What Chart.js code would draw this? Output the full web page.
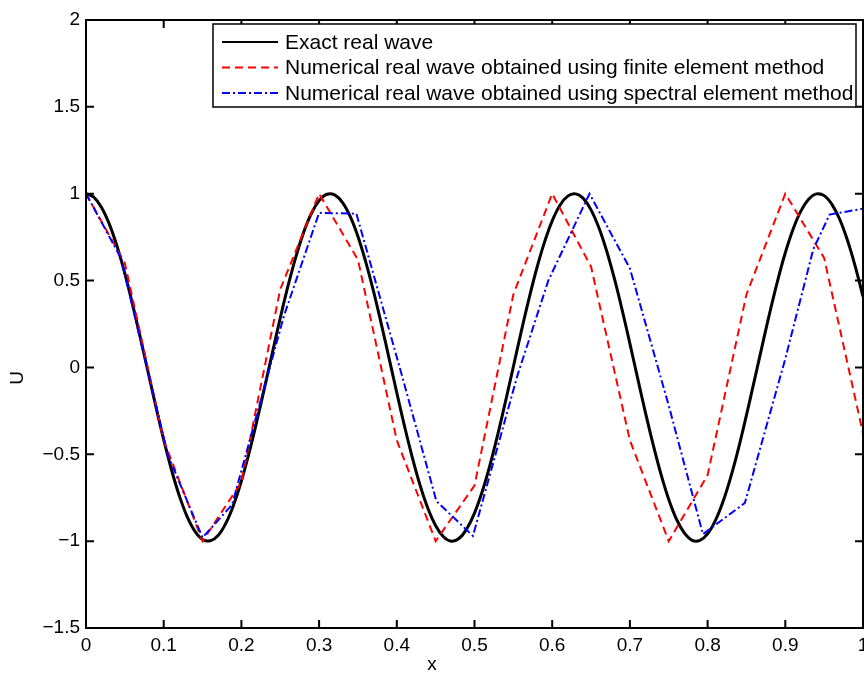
<!DOCTYPE html>
<html>
<head>
<meta charset="utf-8">
<script src="https://cdn.jsdelivr.net/npm/chart.js@4.4.1/dist/chart.umd.min.js"></script>
<style>
  html, body { margin: 0; padding: 0; background: #fff; }
  #wrap { width: 864px; height: 681px; position: relative; }
</style>
</head>
<body>
<div id="wrap"><canvas id="waveChart"></canvas></div>
<script>
// Exact real wave
const exactX = [
  0, 0.01, 0.02, 0.03, 0.04, 0.05, 0.06, 0.07, 0.08, 0.09,
  0.1, 0.11, 0.12, 0.13, 0.14, 0.15, 0.16, 0.17, 0.18, 0.19,
  0.2, 0.21, 0.22, 0.23, 0.24, 0.25, 0.26, 0.27, 0.28, 0.29,
  0.3, 0.31, 0.32, 0.33, 0.34, 0.35, 0.36, 0.37, 0.38, 0.39,
  0.4, 0.41, 0.42, 0.43, 0.44, 0.45, 0.46, 0.47, 0.48, 0.49,
  0.5, 0.51, 0.52, 0.53, 0.54, 0.55, 0.56, 0.57, 0.58, 0.59,
  0.6, 0.61, 0.62, 0.63, 0.64, 0.65, 0.66, 0.67, 0.68, 0.69,
  0.7, 0.71, 0.72, 0.73, 0.74, 0.75, 0.76, 0.77, 0.78, 0.79,
  0.8, 0.81, 0.82, 0.83, 0.84, 0.85, 0.86, 0.87, 0.88, 0.89,
  0.9, 0.91, 0.92, 0.93, 0.94, 0.95, 0.96, 0.97, 0.98, 0.99, 1
];
const exactU = [
  1.000, 0.980, 0.921, 0.825, 0.697, 0.540, 0.362, 0.170, -0.029, -0.227,
  -0.416, -0.589, -0.737, -0.857, -0.942, -0.990, -0.998, -0.967, -0.897, -0.791,
  -0.654, -0.490, -0.307, -0.112, 0.087, 0.284, 0.469, 0.635, 0.776, 0.886,
  0.960, 0.997, 0.993, 0.950, 0.869, 0.754, 0.608, 0.439, 0.251, 0.054,
  -0.146, -0.339, -0.519, -0.679, -0.811, -0.911, -0.975, -1.000, -0.985, -0.930,
  -0.839, -0.714, -0.561, -0.385, -0.194, 0.004, 0.203, 0.393, 0.568, 0.720,
  0.844, 0.934, 0.986, 0.999, 0.973, 0.907, 0.806, 0.672, 0.512, 0.331,
  0.137, -0.063, -0.260, -0.446, -0.615, -0.760, -0.874, -0.953, -0.995, -0.996,
  -0.958, -0.882, -0.771, -0.629, -0.462, -0.275, -0.079, 0.120, 0.315, 0.497,
  0.660, 0.796, 0.900, 0.968, 0.999, 0.989, 0.939, 0.853, 0.732, 0.582, 0.408
];

// Finite element nodes
const femX = [0, 0.05, 0.1, 0.15, 0.2, 0.25, 0.3, 0.35, 0.4, 0.45, 0.5,
              0.55, 0.6, 0.65, 0.7, 0.75, 0.8, 0.85, 0.9, 0.95, 1];
const femU = [1, 0.6, -0.42, -1, -0.66, 0.45, 1, 0.62, -0.42, -1, -0.68,
              0.42, 1, 0.58, -0.42, -1, -0.62, 0.42, 1, 0.63, -0.38];

// Spectral element nodes
const semX = [0, 0.045, 0.105, 0.15, 0.188, 0.255, 0.3, 0.348, 0.405, 0.451, 0.498,
              0.555, 0.595, 0.648, 0.7, 0.75, 0.794, 0.848, 0.9, 0.936, 0.957, 1];
const semU = [1, 0.63, -0.5, -0.98, -0.79, 0.3, 0.89, 0.885, -0.02, -0.77, -0.97,
              -0.05, 0.5, 1.0, 0.57, -0.22, -0.96, -0.78, 0.05, 0.68, 0.88, 0.914];

const xTicks = [0, 0.1, 0.2, 0.3, 0.4, 0.5, 0.6, 0.7, 0.8, 0.9, 1];
const yTicks = [-1.5, -1, -0.5, 0, 0.5, 1, 1.5, 2];

const seriesLabels = [
  'Exact real wave',
  'Numerical real wave obtained using finite element method',
  'Numerical real wave obtained using spectral element method'
];

const FONT = '"Liberation Sans", Arial, Helvetica, sans-serif';

function toPoints(xs, ys) {
  return xs.map((x, i) => ({ x: x, y: ys[i] }));
}

function fmtTick(v) {
  return String(Math.round(v * 10) / 10).replace('-', '\u2212');
}

// box, inward ticks, axis titles and legend (MATLAB look)
const matlabAxes = {
  id: 'matlabAxes',
  afterDraw(chart) {
    const ctx = chart.ctx;
    const a = chart.chartArea;
    const xs = chart.scales.x;
    const ys = chart.scales.y;
    ctx.save();
    ctx.strokeStyle = '#000';
    ctx.lineWidth = 2;
    ctx.strokeRect(a.left, a.top, a.right - a.left, a.bottom - a.top);

    const tl = 8;
    ctx.beginPath();
    xTicks.forEach(v => {
      const px = xs.getPixelForValue(v);
      ctx.moveTo(px, a.bottom); ctx.lineTo(px, a.bottom - tl);
      ctx.moveTo(px, a.top); ctx.lineTo(px, a.top + tl);
    });
    yTicks.forEach(v => {
      const py = ys.getPixelForValue(v);
      ctx.moveTo(a.left, py); ctx.lineTo(a.left + tl, py);
      ctx.moveTo(a.right, py); ctx.lineTo(a.right - tl, py);
    });
    ctx.stroke();

    // axis titles
    ctx.fillStyle = '#000';
    ctx.font = '19px ' + FONT;
    ctx.textAlign = 'center';
    ctx.textBaseline = 'middle';
    ctx.fillText('x', 432, 665);
    ctx.save();
    ctx.translate(18, 378);
    ctx.rotate(-Math.PI / 2);
    ctx.fillText('U', 0, 0);
    ctx.restore();

    // legend
    const lx = 213, ly = 24, lw = 643, lh = 83;
    ctx.fillStyle = '#fff';
    ctx.fillRect(lx, ly, lw, lh);
    ctx.lineWidth = 1.5;
    ctx.strokeStyle = '#000';
    ctx.strokeRect(lx, ly, lw, lh);
    const rows = [42, 67.5, 93];
    chart.data.datasets.forEach((ds, i) => {
      const y = rows[i];
      ctx.beginPath();
      ctx.strokeStyle = ds.borderColor;
      ctx.lineWidth = 2;
      ctx.setLineDash(ds.borderDash || []);
      ctx.moveTo(222, y);
      ctx.lineTo(278, y);
      ctx.stroke();
      ctx.setLineDash([]);
      ctx.fillStyle = '#000';
      ctx.font = '21px ' + FONT;
      ctx.textAlign = 'left';
      ctx.textBaseline = 'middle';
      ctx.fillText(ds.label, 285, y + 1);
    });
    ctx.restore();
  }
};

new Chart(document.getElementById('waveChart'), {
  type: 'line',
  data: {
    datasets: [
      {
        label: seriesLabels[0],
        data: toPoints(exactX, exactU),
        borderColor: '#000000',
        borderWidth: 3,
        tension: 0.4,
        order: 3
      },
      {
        label: seriesLabels[1],
        data: toPoints(femX, femU),
        borderColor: '#ff0000',
        borderWidth: 2,
        borderDash: [8, 5],
        tension: 0,
        order: 2
      },
      {
        label: seriesLabels[2],
        data: toPoints(semX, semU),
        borderColor: '#0000ff',
        borderWidth: 2,
        borderDash: [8, 3, 2, 3],
        tension: 0,
        order: 1
      }
    ]
  },
  options: {
    responsive: true,
    maintainAspectRatio: false,
    animation: false,
    devicePixelRatio: 1,
    layout: { padding: { top: 20, right: 1, left: 0, bottom: 0 } },
    elements: { point: { radius: 0, hoverRadius: 0 } },
    plugins: {
      legend: { display: false },
      tooltip: { enabled: false }
    },
    scales: {
      x: {
        type: 'linear',
        min: 0,
        max: 1,
        afterBuildTicks: s => { s.ticks = xTicks.map(v => ({ value: v })); },
        afterFit: s => { s.height = 53; s.paddingLeft = 0; s.paddingRight = 0; },
        grid: { display: false, drawTicks: false },
        border: { display: false },
        ticks: {
          color: '#000',
          font: { size: 19, family: FONT },
          padding: 6,
          maxRotation: 0,
          autoSkip: false,
          callback: v => fmtTick(v)
        }
      },
      y: {
        type: 'linear',
        min: -1.5,
        max: 2,
        afterBuildTicks: s => { s.ticks = yTicks.map(v => ({ value: v })); },
        afterFit: s => { s.width = 86; s.paddingTop = 0; s.paddingBottom = 0; },
        grid: { display: false, drawTicks: false },
        border: { display: false },
        ticks: {
          color: '#000',
          font: { size: 19, family: FONT },
          padding: 6,
          autoSkip: false,
          callback: v => fmtTick(v)
        }
      }
    }
  },
  plugins: [matlabAxes]
});
</script>
</body>
</html>
